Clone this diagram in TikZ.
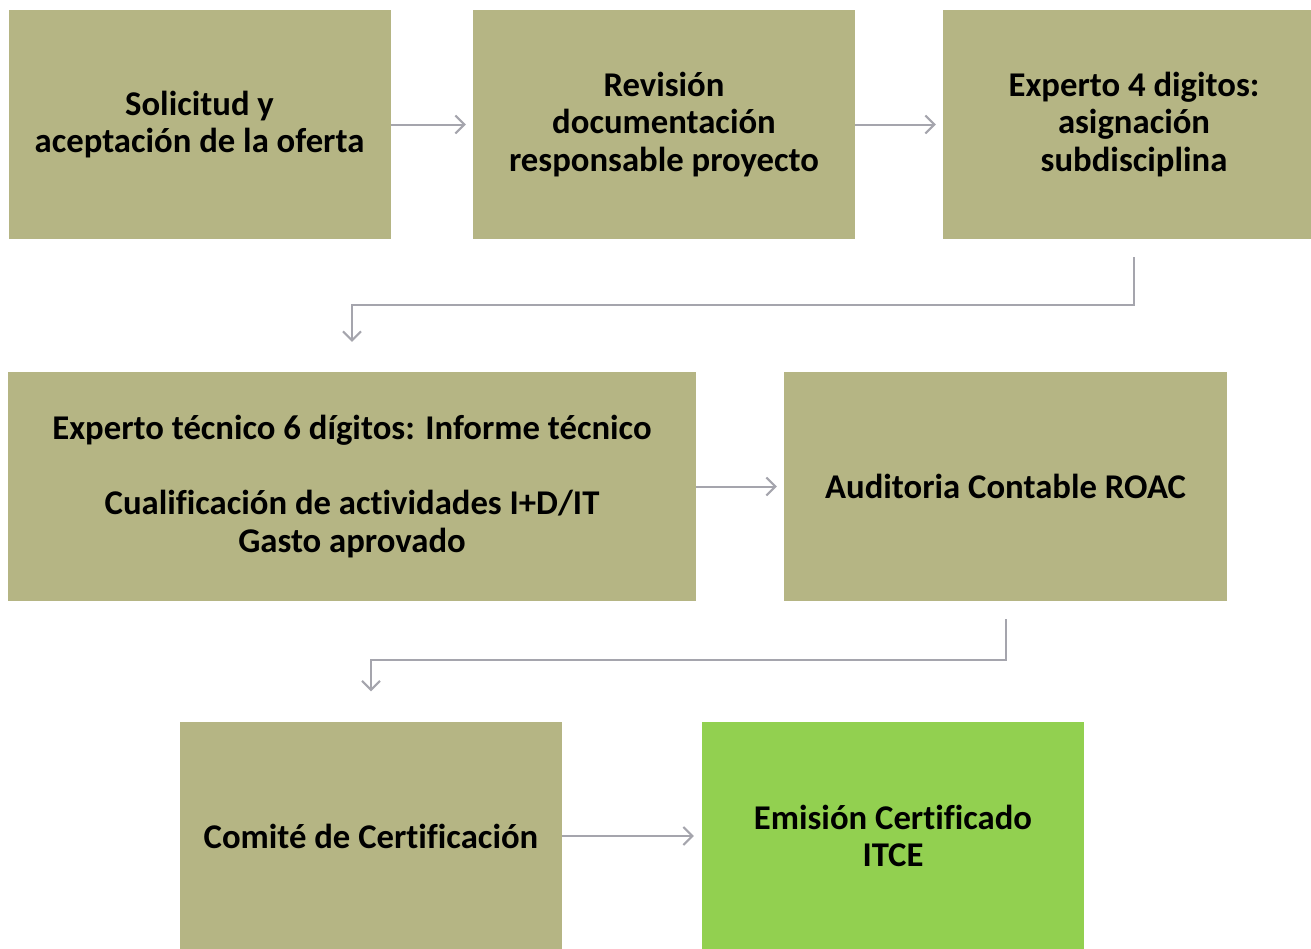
\documentclass[tikz,border=0pt]{standalone}
\usepackage{fontspec}
\setmainfont{Carlito}[Ligatures=NoCommon]
\usetikzlibrary{arrows.meta,calc}
\definecolor{olive}{HTML}{B5B584}
\definecolor{lgreen}{HTML}{92D050}
\definecolor{arr}{HTML}{A5A5AD}
\begin{document}
\begin{tikzpicture}[x=1pt,y=-1pt,
  box/.style={fill=olive,draw=none,minimum width=382pt,minimum height=229pt,inner sep=0pt,
    align=center,font=\fontsize{34.7}{37.5}\selectfont\bfseries,text=black},
  conn/.style={draw=arr,line width=2pt,-{Straight Barb[length=9pt,width=18pt,line width=2pt]}}]
\useasboundingbox (0,0) rectangle (1311,948);
\node[box] (b1) at (199.5,124.5) {Solicitud y\\aceptación de la oferta};
\node[box] (b2) at (664,124.5) {Revisión\\documentación\\responsable proyecto};
\node[box] (b3) at (1134,124.5) {Experto 4 digitos:\\asignación\\subdisciplina};
\node[box,minimum width=688pt] (b4) at (352,486.5) {Experto técnico 6 dígitos: Informe técnico\\[37.5pt]Cualificación de actividades I+D/IT\\Gasto aprovado};
\node[box,minimum width=443pt] (b5) at (1005.5,486.5) {Auditoria Contable ROAC};
\node[box] (b6) at (371,836) {Comité de Certificación};
\node[box,fill=lgreen] (b7) at (893,836) {Emisión Certificado\\ITCE};
\draw[conn,shorten >=7pt] (b1.east) -- (b2.west);
\draw[conn,shorten >=7pt] (b2.east) -- (b3.west);
\draw[conn,shorten <=18pt,shorten >=30pt] (b3.south) -- ++(0,66) -| (b4.north);
\draw[conn,shorten >=7pt] (b4.east) -- (b5.west);
\draw[conn,shorten <=18pt,shorten >=30pt] (b5.south) -- ++(0,59) -| (b6.north);
\draw[conn,shorten >=8pt] (b6.east) -- (b7.west);
\end{tikzpicture}
\end{document}
